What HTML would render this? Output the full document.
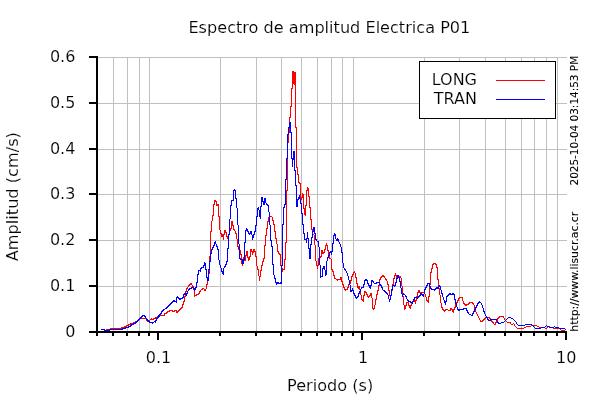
<!DOCTYPE html>
<html lang="es"><head><meta charset="utf-8"><title>Espectro de amplitud Electrica P01</title>
<style>html,body{margin:0;padding:0;background:#fff;overflow:hidden}svg{display:block}text{font-family:"DejaVu Sans","Liberation Sans",sans-serif;fill:#000}.t{font-size:16px;stroke:#fff;stroke-width:.15px}.s{font-size:11px;stroke:#000;stroke-width:.1px}.g{stroke:#c0c0c0;stroke-width:1;shape-rendering:crispEdges;fill:none}.a{fill:#000;shape-rendering:crispEdges}.p{stroke:none;shape-rendering:crispEdges}</style></head><body>
<svg width="600" height="400" viewBox="0 0 600 400">
<rect width="600" height="400" fill="#fff"/>
<path class="g" d="M97 286.5H567M97 240.5H567M97 194.5H567M97 149.5H567M97 103.5H567M97 57.5H567M113.5 57V331M127.5 57V331M139.5 57V331M149.5 57V331M220.5 57V331M256.5 57V331M281.5 57V331M301.5 57V331M317.5 57V331M331.5 57V331M342.5 57V331M353.5 57V331M424.5 57V331M459.5 57V331M485.5 57V331M505.5 57V331M521.5 57V331M534.5 57V331M546.5 57V331M557.5 57V331"/>
<path class="p" fill="#ff0000" d="M106 329h1v1h-1zM107 329h1v1h-1zM108 329h1v1h-1zM109 329h1v1h-1zM110 328h1v2h-1zM111 328h1v1h-1zM112 328h1v1h-1zM113 328h1v1h-1zM114 328h1v1h-1zM115 328h1v1h-1zM116 328h1v1h-1zM117 328h1v1h-1zM118 328h1v1h-1zM119 328h1v1h-1zM120 328h1v1h-1zM121 327h1v2h-1zM122 327h1v1h-1zM123 327h1v1h-1zM124 326h1v2h-1zM125 326h1v1h-1zM126 325h1v2h-1zM127 325h1v1h-1zM128 324h1v2h-1zM129 324h1v1h-1zM130 323h1v2h-1zM131 323h1v1h-1zM132 323h1v1h-1zM133 322h1v2h-1zM134 322h1v1h-1zM135 321h1v2h-1zM136 321h1v1h-1zM137 320h1v2h-1zM138 319h1v2h-1zM139 318h1v2h-1zM140 318h1v1h-1zM141 318h1v1h-1zM142 318h1v1h-1zM143 318h1v1h-1zM144 318h1v1h-1zM145 318h1v1h-1zM146 319h1v2h-1zM147 320h1v2h-1zM148 321h1v1h-1zM149 320h1v1h-1zM150 319h1v1h-1zM151 318h1v2h-1zM152 319h1v1h-1zM153 318h1v2h-1zM154 318h1v1h-1zM155 317h1v2h-1zM156 317h1v1h-1zM157 316h1v2h-1zM158 316h1v1h-1zM159 315h1v2h-1zM160 315h1v1h-1zM161 315h1v1h-1zM162 315h1v1h-1zM163 315h1v1h-1zM164 313h1v3h-1zM165 313h1v1h-1zM166 312h1v2h-1zM167 311h1v2h-1zM168 311h1v1h-1zM169 310h1v2h-1zM170 310h1v1h-1zM171 310h1v1h-1zM172 310h1v2h-1zM173 311h1v1h-1zM174 310h1v2h-1zM175 310h1v1h-1zM176 310h1v3h-1zM177 311h1v2h-1zM178 310h1v2h-1zM179 309h1v2h-1zM180 308h1v2h-1zM181 307h1v2h-1zM182 304h1v4h-1zM183 301h1v4h-1zM184 296h1v6h-1zM185 291h1v6h-1zM186 288h1v4h-1zM187 287h1v2h-1zM188 285h1v2h-1zM189 284h1v2h-1zM190 283h1v2h-1zM191 283h1v2h-1zM192 285h1v2h-1zM193 286h1v4h-1zM194 290h1v7h-1zM195 295h1v1h-1zM196 294h1v2h-1zM197 294h1v1h-1zM198 293h1v2h-1zM199 291h1v3h-1zM200 290h1v2h-1zM201 289h1v1h-1zM202 288h1v2h-1zM203 288h1v1h-1zM204 289h1v2h-1zM205 289h1v2h-1zM206 284h1v5h-1zM207 279h1v6h-1zM208 273h1v7h-1zM209 256h1v18h-1zM210 231h1v26h-1zM211 221h1v11h-1zM212 215h1v6h-1zM213 204h1v12h-1zM214 200h1v5h-1zM215 200h1v2h-1zM216 201h1v5h-1zM217 204h1v2h-1zM218 204h1v13h-1zM219 216h1v14h-1zM220 230h1v4h-1zM221 233h1v4h-1zM222 234h1v3h-1zM223 234h1v6h-1zM224 230h1v5h-1zM225 230h1v3h-1zM226 232h1v5h-1zM227 236h1v3h-1zM228 234h1v4h-1zM229 230h1v5h-1zM230 228h1v3h-1zM231 221h1v8h-1zM232 221h1v5h-1zM233 225h1v5h-1zM234 229h1v2h-1zM235 231h1v3h-1zM236 233h1v6h-1zM237 239h1v8h-1zM238 246h1v4h-1zM239 249h1v2h-1zM240 250h1v5h-1zM241 254h1v10h-1zM242 261h1v5h-1zM243 257h1v5h-1zM244 257h1v4h-1zM245 255h1v6h-1zM246 251h1v5h-1zM247 251h1v7h-1zM248 257h1v4h-1zM249 256h1v4h-1zM250 249h1v8h-1zM251 249h1v3h-1zM252 251h1v4h-1zM253 249h1v4h-1zM254 249h1v3h-1zM255 251h1v6h-1zM256 256h1v10h-1zM257 266h1v4h-1zM258 269h1v7h-1zM259 276h1v5h-1zM260 270h1v7h-1zM261 265h1v6h-1zM262 261h1v5h-1zM263 258h1v4h-1zM264 245h1v14h-1zM265 235h1v11h-1zM266 228h1v8h-1zM267 221h1v8h-1zM268 217h1v5h-1zM269 217h1v1h-1zM270 216h1v1h-1zM271 216h1v1h-1zM272 217h1v4h-1zM273 220h1v5h-1zM274 224h1v8h-1zM275 231h1v8h-1zM276 238h1v6h-1zM277 244h1v8h-1zM278 251h1v3h-1zM279 253h1v2h-1zM280 254h1v12h-1zM281 265h1v4h-1zM282 268h1v4h-1zM283 269h1v1h-1zM284 259h1v11h-1zM285 242h1v18h-1zM286 190h1v53h-1zM287 142h1v49h-1zM288 132h1v11h-1zM289 117h1v16h-1zM290 106h1v12h-1zM291 88h1v19h-1zM292 71h1v18h-1zM293 71h1v13h-1zM294 72h1v13h-1zM295 72h1v56h-1zM296 127h1v41h-1zM297 167h1v8h-1zM298 174h1v9h-1zM299 182h1v2h-1zM300 183h1v16h-1zM301 197h1v3h-1zM302 193h1v5h-1zM303 194h1v15h-1zM304 208h1v7h-1zM305 205h1v11h-1zM306 190h1v16h-1zM307 187h1v4h-1zM308 188h1v9h-1zM309 196h1v12h-1zM310 207h1v13h-1zM311 219h1v11h-1zM312 229h1v6h-1zM313 234h1v1h-1zM314 235h1v10h-1zM315 245h1v16h-1zM316 261h1v5h-1zM317 265h1v4h-1zM318 258h1v8h-1zM319 257h1v2h-1zM320 256h1v2h-1zM321 250h1v7h-1zM322 250h1v4h-1zM323 252h1v2h-1zM324 249h1v4h-1zM325 245h1v5h-1zM326 243h1v3h-1zM327 245h1v6h-1zM328 250h1v6h-1zM329 255h1v4h-1zM330 258h1v1h-1zM331 259h1v11h-1zM332 269h1v3h-1zM333 271h1v5h-1zM334 275h1v4h-1zM335 278h1v1h-1zM336 279h1v1h-1zM337 279h1v2h-1zM338 279h1v1h-1zM339 279h1v1h-1zM340 277h1v3h-1zM341 277h1v5h-1zM342 281h1v4h-1zM343 284h1v4h-1zM344 287h1v3h-1zM345 289h1v2h-1zM346 289h1v1h-1zM347 287h1v3h-1zM348 284h1v4h-1zM349 283h1v2h-1zM350 280h1v4h-1zM351 276h1v5h-1zM352 274h1v3h-1zM353 272h1v3h-1zM354 271h1v2h-1zM355 273h1v5h-1zM356 277h1v7h-1zM357 283h1v5h-1zM358 286h1v3h-1zM359 286h1v4h-1zM360 290h1v5h-1zM361 295h1v5h-1zM362 299h1v2h-1zM363 295h1v7h-1zM364 291h1v5h-1zM365 291h1v2h-1zM366 292h1v3h-1zM367 294h1v3h-1zM368 296h1v2h-1zM369 295h1v2h-1zM370 293h1v3h-1zM371 293h1v5h-1zM372 298h1v11h-1zM373 308h1v2h-1zM374 305h1v4h-1zM375 299h1v6h-1zM376 294h1v6h-1zM377 290h1v5h-1zM378 285h1v6h-1zM379 279h1v7h-1zM380 277h1v3h-1zM381 276h1v2h-1zM382 275h1v2h-1zM383 275h1v2h-1zM384 276h1v2h-1zM385 278h1v2h-1zM386 279h1v2h-1zM387 281h1v4h-1zM388 284h1v7h-1zM389 290h1v6h-1zM390 295h1v3h-1zM391 290h1v5h-1zM392 284h1v7h-1zM393 278h1v7h-1zM394 275h1v4h-1zM395 273h1v3h-1zM396 275h1v3h-1zM397 277h1v1h-1zM398 277h1v1h-1zM399 276h1v2h-1zM400 276h1v2h-1zM401 278h1v8h-1zM402 286h1v10h-1zM403 296h1v9h-1zM404 305h1v5h-1zM405 305h1v4h-1zM406 302h1v4h-1zM407 302h1v1h-1zM408 302h1v4h-1zM409 305h1v3h-1zM410 305h1v4h-1zM411 303h1v3h-1zM412 301h1v2h-1zM413 300h1v2h-1zM414 300h1v2h-1zM415 300h1v4h-1zM416 296h1v5h-1zM417 292h1v5h-1zM418 290h1v3h-1zM419 290h1v3h-1zM420 292h1v1h-1zM421 292h1v2h-1zM422 292h1v1h-1zM423 292h1v1h-1zM424 292h1v2h-1zM425 294h1v3h-1zM426 297h1v4h-1zM427 300h1v2h-1zM428 296h1v7h-1zM429 284h1v13h-1zM430 272h1v13h-1zM431 268h1v5h-1zM432 264h1v5h-1zM433 263h1v2h-1zM434 263h1v1h-1zM435 263h1v2h-1zM436 264h1v4h-1zM437 267h1v13h-1zM438 279h1v9h-1zM439 288h1v7h-1zM440 295h1v8h-1zM441 303h1v5h-1zM442 307h1v3h-1zM443 309h1v2h-1zM444 310h1v2h-1zM445 309h1v2h-1zM446 309h1v1h-1zM447 309h1v1h-1zM448 310h1v1h-1zM449 310h1v1h-1zM450 308h1v3h-1zM451 308h1v2h-1zM452 309h1v3h-1zM453 309h1v4h-1zM454 307h1v3h-1zM455 304h1v4h-1zM456 302h1v3h-1zM457 300h1v3h-1zM458 298h1v3h-1zM459 297h1v2h-1zM460 297h1v1h-1zM461 297h1v1h-1zM462 297h1v4h-1zM463 301h1v3h-1zM464 303h1v2h-1zM465 304h1v2h-1zM466 304h1v2h-1zM467 304h1v1h-1zM468 303h1v2h-1zM469 302h1v2h-1zM470 302h1v1h-1zM471 302h1v1h-1zM472 302h1v2h-1zM473 303h1v2h-1zM474 305h1v4h-1zM475 308h1v4h-1zM476 312h1v2h-1zM477 314h1v2h-1zM478 316h1v2h-1zM479 318h1v2h-1zM480 320h1v2h-1zM481 321h1v1h-1zM482 320h1v2h-1zM483 319h1v2h-1zM484 318h1v2h-1zM485 317h1v2h-1zM486 317h1v1h-1zM487 317h1v1h-1zM488 317h1v1h-1zM489 317h1v2h-1zM490 318h1v2h-1zM491 319h1v3h-1zM492 321h1v2h-1zM493 322h1v2h-1zM494 324h1v1h-1zM495 322h1v3h-1zM496 321h1v2h-1zM497 318h1v4h-1zM498 317h1v2h-1zM499 316h1v2h-1zM500 316h1v1h-1zM501 316h1v1h-1zM502 316h1v1h-1zM503 316h1v2h-1zM504 318h1v2h-1zM505 320h1v1h-1zM506 321h1v1h-1zM507 322h1v1h-1zM508 322h1v1h-1zM509 322h1v1h-1zM510 322h1v2h-1zM511 324h1v1h-1zM512 324h1v1h-1zM513 323h1v1h-1zM514 324h1v2h-1zM515 326h1v1h-1zM516 327h1v1h-1zM517 328h1v1h-1zM518 328h1v1h-1zM519 328h1v1h-1zM520 328h1v1h-1zM521 328h1v1h-1zM522 328h1v1h-1zM523 328h1v1h-1zM524 327h1v1h-1zM525 327h1v1h-1zM526 326h1v1h-1zM527 326h1v1h-1zM528 326h1v1h-1zM529 326h1v1h-1zM530 326h1v1h-1zM531 325h1v1h-1zM532 325h1v1h-1zM533 325h1v1h-1zM534 325h1v1h-1zM535 325h1v1h-1zM536 325h1v1h-1zM537 326h1v1h-1zM538 326h1v1h-1zM539 327h1v1h-1zM540 327h1v1h-1zM541 327h1v1h-1zM542 327h1v1h-1zM543 327h1v1h-1zM544 327h1v1h-1zM545 328h1v1h-1zM546 328h1v1h-1zM547 327h1v1h-1zM548 326h1v1h-1zM549 326h1v1h-1zM550 327h1v1h-1zM551 327h1v1h-1zM552 327h1v1h-1zM553 328h1v1h-1zM554 328h1v1h-1zM555 328h1v1h-1zM556 328h1v1h-1zM557 328h1v1h-1zM558 328h1v1h-1zM559 328h1v1h-1zM560 329h1v1h-1zM561 330h1v1h-1zM562 330h1v1h-1zM563 330h1v1h-1zM564 330h1v1h-1zM565 331h1v1h-1z"/>
<path class="p" fill="#0000ff" d="M101 329h1v1h-1zM102 329h1v1h-1zM103 329h1v1h-1zM104 329h1v2h-1zM105 330h1v1h-1zM106 330h1v1h-1zM107 330h1v1h-1zM108 330h1v1h-1zM109 329h1v2h-1zM110 329h1v1h-1zM111 329h1v1h-1zM112 329h1v1h-1zM113 329h1v1h-1zM114 329h1v1h-1zM115 329h1v1h-1zM116 329h1v1h-1zM117 329h1v1h-1zM118 329h1v1h-1zM119 329h1v1h-1zM120 329h1v1h-1zM121 329h1v1h-1zM122 328h1v2h-1zM123 328h1v1h-1zM124 328h1v1h-1zM125 327h1v2h-1zM126 327h1v1h-1zM127 327h1v1h-1zM128 326h1v2h-1zM129 326h1v1h-1zM130 325h1v2h-1zM131 324h1v2h-1zM132 324h1v1h-1zM133 323h1v2h-1zM134 323h1v1h-1zM135 322h1v2h-1zM136 321h1v2h-1zM137 320h1v2h-1zM138 319h1v2h-1zM139 318h1v2h-1zM140 317h1v2h-1zM141 316h1v2h-1zM142 315h1v2h-1zM143 315h1v1h-1zM144 315h1v2h-1zM145 316h1v2h-1zM146 318h1v2h-1zM147 319h1v2h-1zM148 320h1v2h-1zM149 321h1v2h-1zM150 322h1v1h-1zM151 322h1v1h-1zM152 322h1v2h-1zM153 322h1v1h-1zM154 321h1v1h-1zM155 320h1v3h-1zM156 318h1v3h-1zM157 317h1v2h-1zM158 315h1v3h-1zM159 314h1v3h-1zM160 313h1v2h-1zM161 311h1v3h-1zM162 310h1v2h-1zM163 309h1v2h-1zM164 309h1v1h-1zM165 308h1v1h-1zM166 307h1v2h-1zM167 306h1v2h-1zM168 305h1v2h-1zM169 304h1v2h-1zM170 303h1v2h-1zM171 302h1v2h-1zM172 301h1v2h-1zM173 300h1v2h-1zM174 300h1v2h-1zM175 301h1v1h-1zM176 297h1v6h-1zM177 296h1v2h-1zM178 297h1v2h-1zM179 298h1v2h-1zM180 298h1v2h-1zM181 298h1v1h-1zM182 297h1v2h-1zM183 294h1v4h-1zM184 293h1v2h-1zM185 293h1v2h-1zM186 293h1v3h-1zM187 291h1v3h-1zM188 289h1v2h-1zM189 288h1v2h-1zM190 288h1v1h-1zM191 287h1v2h-1zM192 287h1v1h-1zM193 287h1v2h-1zM194 288h1v3h-1zM195 287h1v3h-1zM196 282h1v6h-1zM197 274h1v9h-1zM198 270h1v5h-1zM199 270h1v1h-1zM200 268h1v4h-1zM201 267h1v2h-1zM202 267h1v1h-1zM203 265h1v3h-1zM204 262h1v4h-1zM205 263h1v7h-1zM206 269h1v9h-1zM207 277h1v4h-1zM208 269h1v12h-1zM209 261h1v9h-1zM210 253h1v9h-1zM211 249h1v5h-1zM212 247h1v3h-1zM213 245h1v3h-1zM214 242h1v4h-1zM215 241h1v3h-1zM216 244h1v3h-1zM217 246h1v4h-1zM218 249h1v11h-1zM219 260h1v5h-1zM220 265h1v3h-1zM221 268h1v4h-1zM222 271h1v3h-1zM223 268h1v7h-1zM224 266h1v2h-1zM225 264h1v3h-1zM226 261h1v4h-1zM227 248h1v14h-1zM228 234h1v15h-1zM229 219h1v16h-1zM230 205h1v14h-1zM231 200h1v6h-1zM232 200h1v1h-1zM233 190h1v11h-1zM234 189h1v2h-1zM235 190h1v9h-1zM236 198h1v10h-1zM237 208h1v17h-1zM238 225h1v19h-1zM239 244h1v15h-1zM240 258h1v2h-1zM241 259h1v1h-1zM242 259h1v5h-1zM243 259h1v5h-1zM244 242h1v18h-1zM245 230h1v13h-1zM246 228h1v3h-1zM247 229h1v3h-1zM248 231h1v3h-1zM249 233h1v2h-1zM250 231h1v3h-1zM251 231h1v4h-1zM252 235h1v5h-1zM253 234h1v4h-1zM254 231h1v4h-1zM255 225h1v7h-1zM256 216h1v10h-1zM257 208h1v9h-1zM258 207h1v3h-1zM259 210h1v7h-1zM260 206h1v13h-1zM261 197h1v10h-1zM262 197h1v5h-1zM263 201h1v4h-1zM264 198h1v7h-1zM265 198h1v5h-1zM266 203h1v2h-1zM267 204h1v2h-1zM268 205h1v7h-1zM269 212h1v13h-1zM270 225h1v16h-1zM271 240h1v7h-1zM272 246h1v19h-1zM273 264h1v11h-1zM274 275h1v4h-1zM275 278h1v5h-1zM276 282h1v3h-1zM277 282h1v2h-1zM278 282h1v2h-1zM279 283h1v1h-1zM280 282h1v2h-1zM281 265h1v19h-1zM282 224h1v42h-1zM283 207h1v18h-1zM284 204h1v4h-1zM285 179h1v26h-1zM286 158h1v22h-1zM287 134h1v25h-1zM288 127h1v8h-1zM289 122h1v6h-1zM290 122h1v11h-1zM291 132h1v27h-1zM292 158h1v9h-1zM293 151h1v9h-1zM294 151h1v20h-1zM295 170h1v16h-1zM296 185h1v22h-1zM297 199h1v8h-1zM298 197h1v3h-1zM299 195h1v4h-1zM300 199h1v5h-1zM301 203h1v11h-1zM302 213h1v12h-1zM303 224h1v10h-1zM304 233h1v7h-1zM305 239h1v1h-1zM306 238h1v5h-1zM307 232h1v7h-1zM308 238h1v11h-1zM309 248h1v11h-1zM310 244h1v15h-1zM311 237h1v8h-1zM312 231h1v7h-1zM313 227h1v5h-1zM314 227h1v7h-1zM315 233h1v7h-1zM316 239h1v2h-1zM317 241h1v1h-1zM318 241h1v6h-1zM319 247h1v18h-1zM320 265h1v13h-1zM321 276h1v1h-1zM322 268h1v9h-1zM323 266h1v3h-1zM324 266h1v4h-1zM325 270h1v6h-1zM326 261h1v14h-1zM327 257h1v4h-1zM328 255h1v3h-1zM329 252h1v4h-1zM330 251h1v2h-1zM331 251h1v4h-1zM332 243h1v9h-1zM333 235h1v9h-1zM334 233h1v3h-1zM335 234h1v5h-1zM336 239h1v2h-1zM337 238h1v3h-1zM338 239h1v3h-1zM339 242h1v2h-1zM340 244h1v3h-1zM341 247h1v6h-1zM342 252h1v11h-1zM343 263h1v5h-1zM344 268h1v2h-1zM345 269h1v2h-1zM346 271h1v2h-1zM347 273h1v3h-1zM348 276h1v4h-1zM349 280h1v5h-1zM350 285h1v7h-1zM351 290h1v2h-1zM352 288h1v3h-1zM353 290h1v4h-1zM354 293h1v3h-1zM355 295h1v3h-1zM356 297h1v2h-1zM357 296h1v2h-1zM358 293h1v4h-1zM359 291h1v3h-1zM360 289h1v3h-1zM361 287h1v2h-1zM362 287h1v1h-1zM363 284h1v4h-1zM364 280h1v5h-1zM365 279h1v2h-1zM366 279h1v2h-1zM367 280h1v4h-1zM368 283h1v3h-1zM369 285h1v3h-1zM370 285h1v4h-1zM371 280h1v6h-1zM372 280h1v2h-1zM373 281h1v2h-1zM374 283h1v1h-1zM375 283h1v1h-1zM376 282h1v2h-1zM377 282h1v1h-1zM378 282h1v1h-1zM379 282h1v3h-1zM380 284h1v2h-1zM381 285h1v3h-1zM382 287h1v3h-1zM383 290h1v1h-1zM384 290h1v2h-1zM385 291h1v2h-1zM386 292h1v2h-1zM387 293h1v2h-1zM388 295h1v4h-1zM389 299h1v3h-1zM390 295h1v5h-1zM391 289h1v7h-1zM392 285h1v5h-1zM393 285h1v1h-1zM394 285h1v2h-1zM395 282h1v4h-1zM396 278h1v5h-1zM397 275h1v4h-1zM398 275h1v3h-1zM399 277h1v5h-1zM400 281h1v7h-1zM401 288h1v6h-1zM402 294h1v3h-1zM403 293h1v2h-1zM404 294h1v1h-1zM405 295h1v2h-1zM406 296h1v3h-1zM407 299h1v2h-1zM408 300h1v2h-1zM409 301h1v1h-1zM410 301h1v2h-1zM411 302h1v1h-1zM412 301h1v3h-1zM413 299h1v3h-1zM414 297h1v3h-1zM415 297h1v1h-1zM416 297h1v1h-1zM417 297h1v2h-1zM418 296h1v2h-1zM419 295h1v2h-1zM420 293h1v3h-1zM421 293h1v2h-1zM422 294h1v2h-1zM423 294h1v3h-1zM424 289h1v5h-1zM425 287h1v3h-1zM426 285h1v3h-1zM427 283h1v3h-1zM428 283h1v1h-1zM429 283h1v4h-1zM430 286h1v3h-1zM431 288h1v2h-1zM432 289h1v1h-1zM433 289h1v1h-1zM434 289h1v2h-1zM435 288h1v2h-1zM436 287h1v2h-1zM437 287h1v2h-1zM438 286h1v3h-1zM439 285h1v2h-1zM440 286h1v4h-1zM441 290h1v4h-1zM442 293h1v4h-1zM443 297h1v3h-1zM444 300h1v3h-1zM445 301h1v4h-1zM446 296h1v6h-1zM447 295h1v2h-1zM448 294h1v2h-1zM449 293h1v2h-1zM450 293h1v2h-1zM451 294h1v1h-1zM452 293h1v2h-1zM453 293h1v2h-1zM454 294h1v6h-1zM455 299h1v5h-1zM456 303h1v4h-1zM457 307h1v3h-1zM458 309h1v2h-1zM459 309h1v2h-1zM460 309h1v1h-1zM461 309h1v1h-1zM462 309h1v1h-1zM463 308h1v2h-1zM464 308h1v1h-1zM465 308h1v1h-1zM466 308h1v3h-1zM467 310h1v3h-1zM468 312h1v2h-1zM469 314h1v1h-1zM470 314h1v1h-1zM471 315h1v1h-1zM472 313h1v3h-1zM473 311h1v3h-1zM474 309h1v3h-1zM475 307h1v3h-1zM476 305h1v3h-1zM477 303h1v3h-1zM478 302h1v2h-1zM479 301h1v2h-1zM480 302h1v1h-1zM481 303h1v2h-1zM482 305h1v3h-1zM483 308h1v4h-1zM484 311h1v3h-1zM485 314h1v2h-1zM486 316h1v2h-1zM487 317h1v3h-1zM488 319h1v2h-1zM489 320h1v1h-1zM490 319h1v2h-1zM491 319h1v1h-1zM492 319h1v1h-1zM493 319h1v1h-1zM494 319h1v1h-1zM495 319h1v1h-1zM496 319h1v2h-1zM497 321h1v2h-1zM498 322h1v2h-1zM499 323h1v1h-1zM500 323h1v1h-1zM501 322h1v1h-1zM502 322h1v1h-1zM503 322h1v1h-1zM504 321h1v1h-1zM505 320h1v1h-1zM506 319h1v1h-1zM507 318h1v1h-1zM508 317h1v1h-1zM509 317h1v1h-1zM510 317h1v1h-1zM511 318h1v1h-1zM512 318h1v1h-1zM513 319h1v1h-1zM514 320h1v1h-1zM515 321h1v1h-1zM516 322h1v2h-1zM517 324h1v1h-1zM518 325h1v1h-1zM519 325h1v1h-1zM520 325h1v1h-1zM521 325h1v1h-1zM522 325h1v1h-1zM523 325h1v1h-1zM524 325h1v1h-1zM525 324h1v1h-1zM526 324h1v1h-1zM527 324h1v1h-1zM528 324h1v1h-1zM529 324h1v1h-1zM530 324h1v1h-1zM531 324h1v1h-1zM532 325h1v1h-1zM533 326h1v1h-1zM534 327h1v1h-1zM535 328h1v1h-1zM536 328h1v1h-1zM537 328h1v1h-1zM538 328h1v1h-1zM539 328h1v1h-1zM540 328h1v1h-1zM541 327h1v1h-1zM542 327h1v1h-1zM543 327h1v1h-1zM544 327h1v1h-1zM545 326h1v1h-1zM546 325h1v1h-1zM547 326h1v1h-1zM548 326h1v1h-1zM549 327h1v1h-1zM550 327h1v1h-1zM551 327h1v1h-1zM552 327h1v1h-1zM553 327h1v1h-1zM554 326h1v1h-1zM555 327h1v1h-1zM556 327h1v1h-1zM557 327h1v1h-1zM558 327h1v1h-1zM559 328h1v1h-1zM560 328h1v1h-1zM561 328h1v1h-1zM562 328h1v1h-1zM563 328h1v1h-1zM564 328h1v1h-1zM565 329h1v1h-1z"/>
<rect x="419.5" y="61.5" width="136" height="57" fill="#fff" stroke="#000" stroke-width="1" shape-rendering="crispEdges"/>
<rect x="496" y="80" width="49" height="1" fill="#ff0000" shape-rendering="crispEdges"/>
<rect x="496" y="99" width="49" height="1" fill="#0000ff" shape-rendering="crispEdges"/>
<text class="t" x="477" y="85" text-anchor="end">LONG</text>
<text class="t" x="477" y="104" text-anchor="end">TRAN</text>
<rect class="a" x="96" y="56" width="2" height="277"/><rect class="a" x="89" y="331" width="478" height="2"/><rect class="a" x="89" y="285" width="8" height="2"/><rect class="a" x="89" y="239" width="8" height="2"/><rect class="a" x="89" y="193" width="8" height="2"/><rect class="a" x="89" y="148" width="8" height="2"/><rect class="a" x="89" y="102" width="8" height="2"/><rect class="a" x="89" y="56" width="8" height="2"/><rect class="a" x="157" y="331" width="2" height="9"/><rect class="a" x="361" y="331" width="2" height="9"/><rect class="a" x="565" y="331" width="2" height="9"/><rect class="a" x="96" y="331" width="2" height="5"/><rect class="a" x="112" y="331" width="2" height="5"/><rect class="a" x="126" y="331" width="2" height="5"/><rect class="a" x="138" y="331" width="2" height="5"/><rect class="a" x="148" y="331" width="2" height="5"/><rect class="a" x="219" y="331" width="2" height="5"/><rect class="a" x="255" y="331" width="2" height="5"/><rect class="a" x="280" y="331" width="2" height="5"/><rect class="a" x="300" y="331" width="2" height="5"/><rect class="a" x="316" y="331" width="2" height="5"/><rect class="a" x="330" y="331" width="2" height="5"/><rect class="a" x="341" y="331" width="2" height="5"/><rect class="a" x="352" y="331" width="2" height="5"/><rect class="a" x="423" y="331" width="2" height="5"/><rect class="a" x="458" y="331" width="2" height="5"/><rect class="a" x="484" y="331" width="2" height="5"/><rect class="a" x="504" y="331" width="2" height="5"/><rect class="a" x="520" y="331" width="2" height="5"/><rect class="a" x="533" y="331" width="2" height="5"/><rect class="a" x="545" y="331" width="2" height="5"/><rect class="a" x="556" y="331" width="2" height="5"/>
<text class="t" transform="translate(329.4 33) scale(1.008 1)" text-anchor="middle">Espectro de amplitud Electrica P01</text>
<text class="t" x="75.4" y="336.8" text-anchor="end">0</text>
<text class="t" x="75.4" y="290.8" text-anchor="end">0.1</text>
<text class="t" x="75.4" y="244.8" text-anchor="end">0.2</text>
<text class="t" x="75.4" y="198.8" text-anchor="end">0.3</text>
<text class="t" x="75.4" y="153.8" text-anchor="end">0.4</text>
<text class="t" x="75.4" y="107.8" text-anchor="end">0.5</text>
<text class="t" x="75.4" y="61.8" text-anchor="end">0.6</text>
<text class="t" x="158.5" y="363" text-anchor="middle">0.1</text>
<text class="t" x="363.1" y="363" text-anchor="middle">1</text>
<text class="t" x="566.3" y="363" text-anchor="middle">10</text>
<text class="t" transform="translate(330.1 391) scale(1.008 1)" text-anchor="middle">Periodo (s)</text>
<text class="t" transform="translate(18 196.7) rotate(-90) scale(1.01 1)" text-anchor="middle">Amplitud (cm/s)</text>
<text class="s" transform="translate(578 185.5) rotate(-90) scale(.952 1)">2025-10-04 03:14:53 PM</text>
<text class="s" transform="translate(578 331.7) rotate(-90) scale(.985 1)">http://www.lisucr.ac.cr</text>
</svg></body></html>
